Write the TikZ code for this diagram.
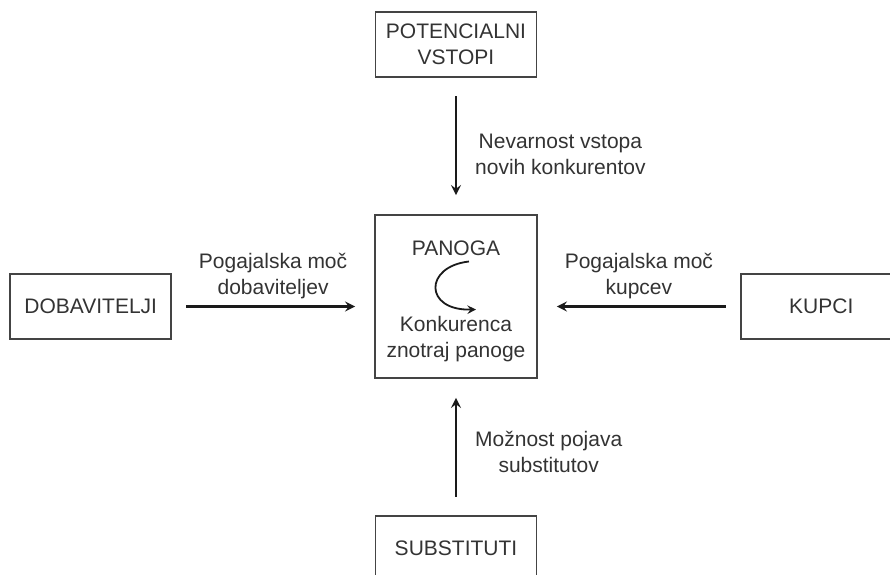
\documentclass[tikz,border=0pt]{standalone}
\usepackage{fontspec}
\setmainfont{Liberation Sans}
\usetikzlibrary{positioning, arrows}
\definecolor{robgray}{HTML}{444444}
\definecolor{besgray}{HTML}{333333}
\definecolor{puscica}{HTML}{1A1A1A}

\begin{document}
\begin{tikzpicture}[
    ->,                   % puscice na vseh povezavah
    >=stealth,            % oblika puscice
    draw=puscica,
    line width=1.2pt,     % debelina puscic
    shorten >=9.5pt,      % razmik pred ciljnim okvirjem
    shorten <=9pt,        % razmik za izhodnim okvirjem
    node distance=68pt,   % privzeta razdalja
    font=\fontsize{10.5}{13}\selectfont,
    okvir/.style={rectangle, draw=robgray, line width=0.9pt, minimum width=80.5pt,
                  minimum height=32.5pt, align=center, text=besgray, inner sep=2pt},
    panoga/.style={okvir, minimum width=81pt, minimum height=81.5pt},
    besedilo/.style={align=center, text=besgray, inner sep=0pt},
    oznaka/.style={align=center, text=besgray, inner sep=0pt}
  ]

  % --- OKVIR SLIKE ---
  \clip (-228pt,-138.75pt) rectangle (217pt,148.25pt);

  % --- OKVIRJI ---
  \node[panoga] (pan) at (0,0) {};
  \node[okvir, above=of pan] (vstopi) {POTENCIALNI\\VSTOPI};
  \node[okvir, below=of pan] (subst) {SUBSTITUTI};
  \node[okvir, left=101pt of pan, yshift=-5pt] (dob) {DOBAVITELJI};
  \node[okvir, right=101pt of pan, yshift=-5pt] (kupci) {KUPCI};

  % --- BESEDILO V PANOGI ---
  \node[besedilo] (naslov) at ([yshift=24pt]pan.center) {PANOGA};
  \node[besedilo] (konk) at ([yshift=-21.5pt]pan.center) {Konkurenca\\znotraj panoge};

  % krozna puscica
  \coordinate (kzac) at ([shift={(6.5pt,17.5pt)}]pan.center);
  \coordinate (kkon) at ([shift={(10pt,-6.5pt)}]pan.center);
  \draw[line width=0.9pt, shorten >=0pt, shorten <=0pt] (kzac)
    .. controls ([shift={(-16pt,15pt)}]pan.center) and ([shift={(-16pt,-7pt)}]pan.center) .. (kkon);

  % --- POVEZAVE ---

  % Od zgoraj
  \path (vstopi) edge node[oznaka, right=9pt, yshift=-4pt] {Nevarnost vstopa\\novih konkurentov} (pan);

  % Od spodaj
  \path (subst) edge node[oznaka, right=9pt, yshift=-2.5pt] {Možnost pojava\\substitutov} (pan);

  % Z leve
  \path (dob) edge[shorten <=7pt] node[oznaka, above=3pt] {Pogajalska moč\\dobaviteljev} (dob -| pan.west);

  % Z desne
  \path (kupci) edge[shorten <=7pt] node[oznaka, above=3pt] {Pogajalska moč\\kupcev} (kupci -| pan.east);

\end{tikzpicture}
\end{document}
